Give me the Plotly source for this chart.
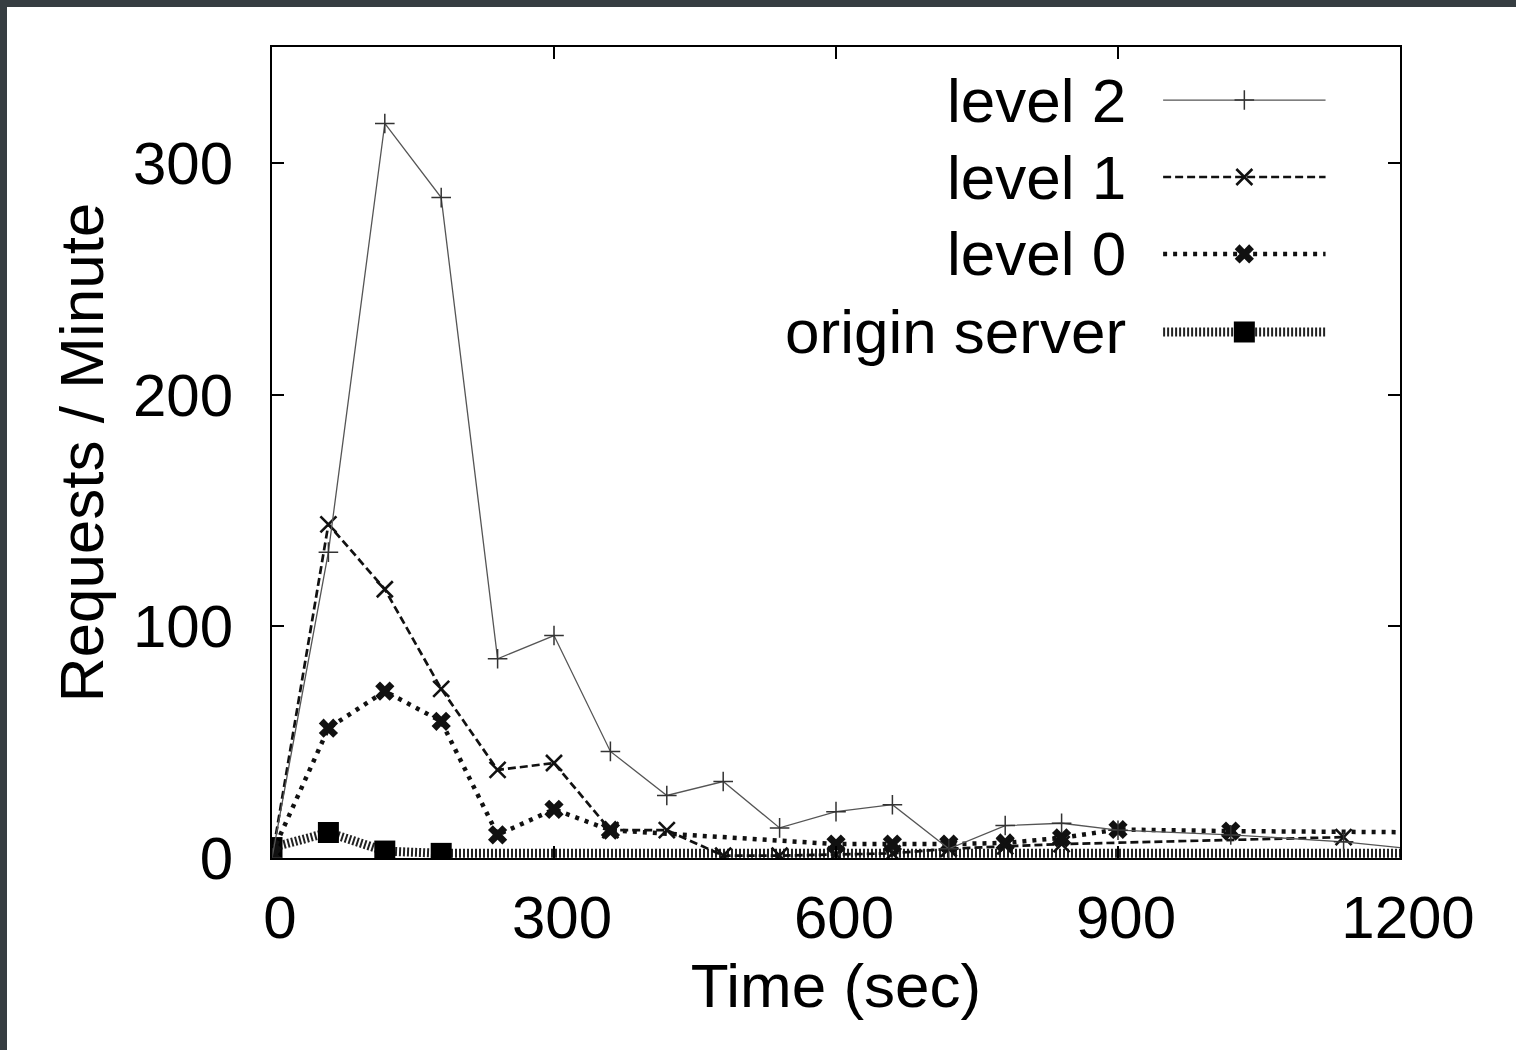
import plotly.graph_objects as go

# ---------------- data ----------------
lvl2_t = [0, 60, 120, 180, 240, 300, 360, 420, 480, 540, 600, 660, 720, 780, 840, 900, 1020, 1140, 1260]
lvl2_v = [0, 132, 317, 285, 86, 96, 46, 27, 33, 13, 20, 23, 4, 14, 15, 12, 10, 7, 2]

lvl1_t = [0, 60, 120, 180, 240, 300, 360, 420, 480, 540, 600, 660, 720, 780, 840, 1140]
lvl1_v = [0, 144, 116, 73, 38, 41, 12, 12, 1, 1, 1.5, 2, 4, 5, 6, 9]

lvl0_t = [0, 60, 120, 180, 240, 300, 360, 600, 660, 720, 780, 840, 900, 1020, 1260]
lvl0_v = [2, 56, 72, 59, 10, 21, 12, 6, 6, 6, 6.5, 8.7, 12.3, 11.6, 11]

orig_t = [0, 60, 120, 180, 1260]
orig_v = [4.5, 11, 3, 2, 2]

x_ticks = [0, 300, 600, 900, 1200]
y_ticks = [0, 100, 200, 300]

series_names = ["level 2", "level 1", "level 0", "origin server"]

# ---------------- styles ----------------
FONT = "Liberation Sans, Arial, Helvetica, sans-serif"
styles = [
    dict(line=dict(color="#555555", width=1.3, dash="solid"),
         marker=dict(symbol="cross-thin-open", size=14, color="#333333",
                     line=dict(color="#333333", width=1.5))),
    dict(line=dict(color="#111111", width=2.7, dash="8px,4px"),
         marker=dict(symbol="x-thin-open", size=16, color="#111111",
                     line=dict(color="#111111", width=2.6))),
    dict(line=dict(color="#111111", width=4.5, dash="4px,6px"),
         marker=dict(symbol="x", size=17, color="#111111", line=dict(width=0))),
    dict(line=dict(color="#222222", width=9, dash="2px,2px"),
         marker=dict(symbol="square", size=21, color="#000000", line=dict(width=0))),
]

data = [(lvl2_t, lvl2_v), (lvl1_t, lvl1_v), (lvl0_t, lvl0_v), (orig_t, orig_v)]

fig = go.Figure()
for idx in [3, 2, 1, 0]:
    t, v = data[idx]
    st = styles[idx]
    fig.add_trace(go.Scatter(x=t, y=v, mode="lines+markers", name=series_names[idx],
                             line=st["line"], marker=st["marker"], showlegend=False))

# ---------------- custom legend (text left of key, gnuplot style) ----------------
leg_rows = [0.9346, 0.8397, 0.7448, 0.6486]
text_right = 0.759
key_x0, key_x1, key_mid = 0.790, 0.934, 0.862
for i, name in enumerate(series_names):
    st = styles[i]
    fig.add_annotation(x=text_right, y=leg_rows[i], xref="paper", yref="paper",
                       text=name, showarrow=False, xanchor="right", yanchor="middle",
                       font=dict(family=FONT, size=62, color="#000000"))
    fig.add_trace(go.Scatter(x=[key_x0, key_x1], y=[leg_rows[i], leg_rows[i]], mode="lines",
                             line=st["line"], xaxis="x2", yaxis="y2", showlegend=False,
                             hoverinfo="skip"))
    fig.add_trace(go.Scatter(x=[key_mid], y=[leg_rows[i]], mode="markers",
                             marker=st["marker"], xaxis="x2", yaxis="y2", showlegend=False,
                             hoverinfo="skip"))

axis_common = dict(showgrid=False, zeroline=False, showline=True, linecolor="#000000",
                   linewidth=2, mirror="allticks", ticks="inside", ticklen=12,
                   tickwidth=1.5, tickcolor="#000000",
                   tickfont=dict(family=FONT, size=60, color="#000000"))

fig.update_layout(
    width=1509, height=1043,
    margin=dict(l=265, r=116, t=40, b=192),
    paper_bgcolor="#ffffff",
    plot_bgcolor="#ffffff",
    showlegend=False,
    xaxis=dict(range=[0, 1200], tickvals=x_ticks, ticktext=[str(v) for v in x_ticks],
               ticklabelshift=8, ticklabelstandoff=6,
               title=dict(text="Time (sec)", font=dict(family=FONT, size=62, color="#000000"),
                          standoff=5),
               **axis_common),
    yaxis=dict(range=[0, 350], tickvals=y_ticks, ticktext=[str(v) for v in y_ticks],
               ticklabelstandoff=25,
               title=dict(text="Requests / Minute", font=dict(family=FONT, size=62, color="#000000"),
                          standoff=9),
               **axis_common),
    xaxis2=dict(range=[0, 1], overlaying="x", visible=False, fixedrange=True),
    yaxis2=dict(range=[0, 1], overlaying="y", visible=False, fixedrange=True),
)

fig.write_html(
    "out.html",
    post_script=("document.body.style.backgroundColor='#363d41';"
                 "document.body.style.margin='7px 0 0 7px';"
                 "document.body.style.overflow='hidden';"),
)
